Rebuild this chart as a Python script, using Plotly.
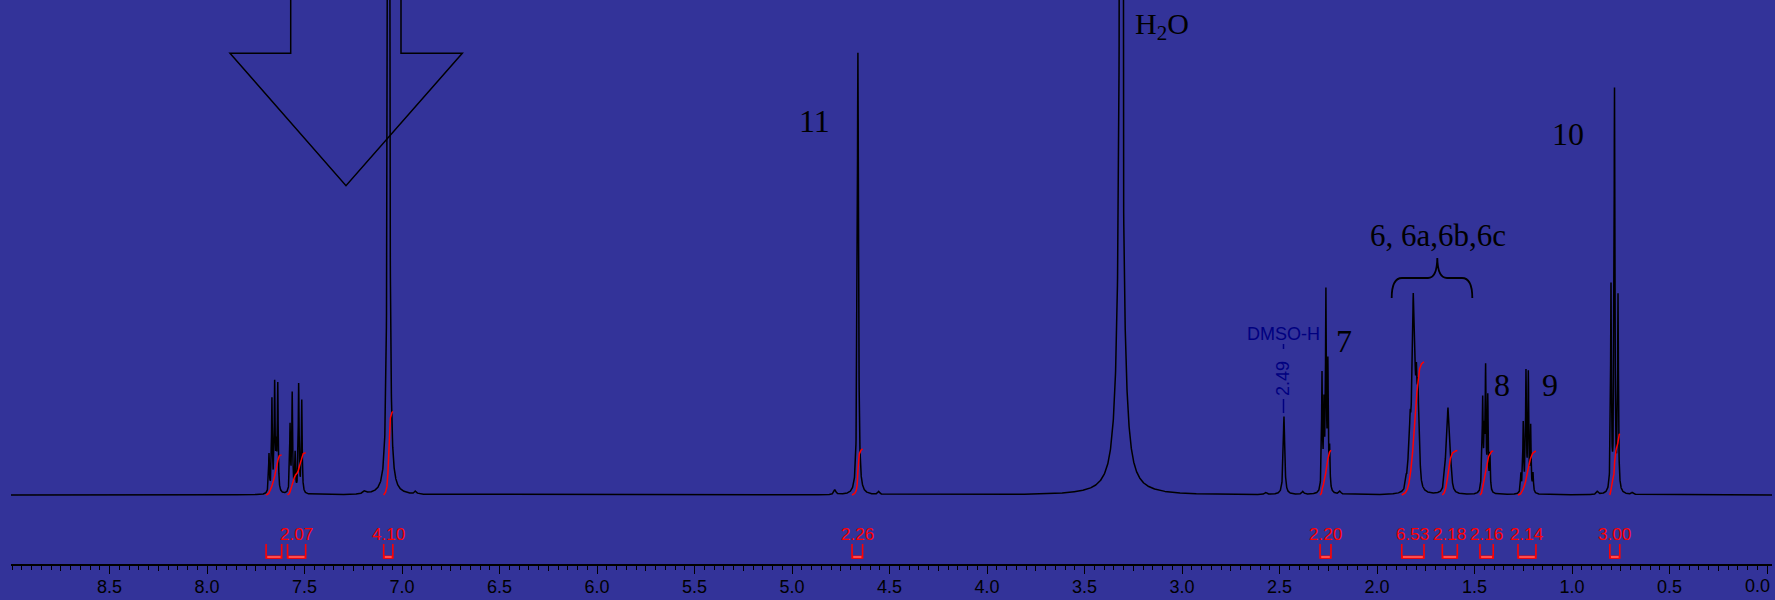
import numpy as np
import plotly.graph_objects as go

# ---------------- data: peak list (ppm, intensity, half width in ppm) ----------------
peak_ppm = [
    # aromatic multiplet 1
    7.682, 7.667, 7.653, 7.645, 7.637,
    # aromatic multiplet 2
    7.574, 7.563, 7.548, 7.530, 7.514,
    # singlet 7.07 and small bumps
    7.069, 7.190, 6.930,
    # singlet 4.66 (11) + satellites
    4.662, 4.780, 4.555,
    # H2O (three components)
    3.313, 3.313, 3.313,
    # DMSO-H
    2.477,
    # 7
    2.282, 2.272, 2.262, 2.252, 2.243,
    # 6 group
    1.850, 1.838, 1.830, 1.822, 1.814, 1.806, 1.798, 1.790, 1.782,
    # 1.64 group
    1.652, 1.644, 1.636, 1.628, 1.620,
    # 8
    1.463, 1.458, 1.450, 1.443, 1.432, 1.421,
    # 9
    1.262, 1.250, 1.236, 1.224, 1.212, 1.200,
    # 10
    0.800, 0.782, 0.764,
    # small bumps
    2.380, 2.190, 0.870, 0.690, 2.570,
]
peak_height = [
    38, 92, 106, 38, 106,
    66, 98, 38, 108, 92,
    1500, 3, 3,
    442, 5, 3,
    3000, 180, 3,
    78,
    115, 80, 193, 122, 38,
    10, 25, 50, 45, 160, 72, 80, 80, 20,
    12, 35, 65, 35, 14,
    28, 85, 50, 118, 92, 36,
    18, 68, 118, 116, 64, 18,
    204, 400, 193,
    3, 3, 3, 2, 2,
]
peak_hwhm = [
    0.0025, 0.0025, 0.0025, 0.0025, 0.0025,
    0.0025, 0.0025, 0.0025, 0.0025, 0.0025,
    0.0039, 0.010, 0.006,
    0.0036, 0.006, 0.006,
    0.0031, 0.0256, 0.128,
    0.0045,
    0.0025, 0.0025, 0.0025, 0.0025, 0.0025,
    0.0045, 0.0045, 0.0045, 0.0045, 0.0045, 0.0045, 0.0045, 0.0045, 0.0045,
    0.005, 0.005, 0.005, 0.005, 0.005,
    0.0025, 0.0025, 0.0025, 0.0025, 0.0025, 0.0025,
    0.0025, 0.0025, 0.0025, 0.0025, 0.0025, 0.0025,
    0.0025, 0.0025, 0.0025,
    0.006, 0.006, 0.006, 0.006, 0.006,
]

# ---------------- data: integrals ----------------
int_start = [7.697, 7.587, 7.094, 4.692, 2.292, 1.873, 1.665, 1.472, 1.277, 0.806]
int_end = [7.617, 7.494, 7.047, 4.638, 2.236, 1.759, 1.588, 1.404, 1.185, 0.755]
int_value = [1.97, 2.07, 4.10, 2.26, 2.20, 6.53, 2.18, 2.16, 2.14, 3.00]
int_label = ["", "2.07", "4.10", "2.26", "2.20", "6.53", "2.18", "2.16", "2.14", "3.00"]
INT_SCALE = 20.4  # curve height per integral unit

# ---------------- data: axis ticks ----------------
tick_vals = [8.5, 8.0, 7.5, 7.0, 6.5, 6.0, 5.5, 5.0, 4.5, 4.0, 3.5, 3.0, 2.5, 2.0, 1.5, 1.0, 0.5, 0.0]
tick_text = ["8.5", "8.0", "7.5", "7.0", "6.5", "6.0", "5.5", "5.0", "4.5", "4.0",
             "3.5", "3.0", "2.5", "2.0", "1.5", "1.0", "0.5", " "]
mid_tick_vals = [8.75, 8.25, 7.75, 7.25, 6.75, 6.25, 5.75, 5.25, 4.75, 4.25, 3.75, 3.25,
                 2.75, 2.25, 1.75, 1.25, 0.75, 0.25]

# ---------------- spectrum from peak list ----------------
ppm = np.arange(-0.03, 9.01, 0.0005)


def spectrum(x):
    s = np.zeros_like(x)
    for p, h, g in zip(peak_ppm, peak_height, peak_hwhm):
        s += h * g * g / (g * g + (x - p) ** 2)
    return s


spec = spectrum(ppm)

BG = "#333399"
AXIS_PX = 564  # pixel row of the axis line
fig = go.Figure()
fig.add_trace(go.Scatter(x=ppm, y=spec, mode="lines",
                         line=dict(color="black", width=1.5), hoverinfo="skip"))

# integral curves
for a, b, v in zip(int_start, int_end, int_value):
    xi = np.linspace(a, b, 400)
    yi = spectrum(xi)
    cum = np.concatenate([[0.0], np.cumsum((yi[1:] + yi[:-1]) / 2.0)])
    cum = cum / cum[-1] * v * INT_SCALE
    fig.add_trace(go.Scatter(x=xi, y=cum, mode="lines",
                             line=dict(color="#ff0000", width=1.5), hoverinfo="skip"))

# dummy trace to realise the mid-tick axis
fig.add_trace(go.Scatter(x=[], y=[], xaxis="x2", showlegend=False))

# ---------------- layout helpers (pixel -> data) ----------------
def fx(px):
    return 8.5 - (px - 109.5) / 195.0


def fy(py):
    return 495.0 - py


shapes = []
annotations = []

# integral brackets and labels
for a, b, lab in zip(int_start, int_end, int_label):
    shapes.append(dict(type="path", xref="x", yref="y",
                       path=f"M {a} {fy(544)} L {a} {fy(558)} L {b} {fy(558)} L {b} {fy(544)}",
                       line=dict(color="#ff0000", width=1.6)))
    shapes.append(dict(type="line", xref="x", yref="y", x0=a, x1=b, y0=fy(557), y1=fy(557),
                       line=dict(color="#ff0000", width=3)))
    shapes.append(dict(type="line", xref="x", yref="y", x0=a - 0.006, x1=b + 0.006,
                       y0=fy(557), y1=fy(557), line=dict(color="#ff9a9a", width=1)))
    if lab:
        annotations.append(dict(x=(a + b) / 2, y=fy(534), xref="x", yref="y", text=lab,
                                showarrow=False, xanchor="center", yanchor="middle",
                                font=dict(family="Liberation Sans, Arial", size=17, color="#ff0000")))

# big outline arrow
arrow = (f"M {fx(290.7)} {fy(-5)} L {fx(290.7)} {fy(53.3)} L {fx(230)} {fy(53.3)} "
         f"L {fx(346)} {fy(185.7)} L {fx(462.3)} {fy(53.3)} L {fx(401)} {fy(53.3)} "
         f"L {fx(401)} {fy(-5)}")
shapes.append(dict(type="path", xref="x", yref="y", path=arrow,
                   line=dict(color="black", width=1.5)))

# curly brace over the 6-group
brace = (f"M {fx(1391.7)} {fy(298)} Q {fx(1391.7)} {fy(278)} {fx(1402)} {fy(278)} "
         f"L {fx(1428)} {fy(278)} Q {fx(1437)} {fy(278)} {fx(1437.3)} {fy(258)} "
         f"Q {fx(1437.6)} {fy(278)} {fx(1447)} {fy(278)} L {fx(1462)} {fy(278)} "
         f"Q {fx(1472.3)} {fy(278)} {fx(1472.3)} {fy(298)}")
shapes.append(dict(type="path", xref="x", yref="y", path=brace,
                   line=dict(color="black", width=1.8)))

# DMSO peak label lines
shapes.append(dict(type="line", xref="x", yref="y", x0=fx(1283.5), x1=fx(1283.5),
                   y0=fy(399), y1=fy(413), line=dict(color="#000080", width=1.5)))
shapes.append(dict(type="line", xref="x", yref="y", x0=fx(1283.5), x1=fx(1283.5),
                   y0=fy(344), y1=fy(349), line=dict(color="#000080", width=1.5)))

serif = "Liberation Serif, Times New Roman, serif"
for txt, px, py, size in [("11", 814, 121, 32), ("10", 1568, 134, 32), ("7", 1344, 341, 32),
                          ("8", 1502, 385, 32), ("9", 1549.5, 385, 32),
                          ("H<sub>2</sub>O", 1162, 26, 30), ("6, 6a,6b,6c", 1438, 235, 31)]:
    annotations.append(dict(x=fx(px), y=fy(py), xref="x", yref="y", text=txt, showarrow=False,
                            xanchor="center", yanchor="middle",
                            font=dict(family=serif, size=size, color="black")))

annotations.append(dict(x=fx(1283), y=fy(334), xref="x", yref="y", text="DMSO-H", showarrow=False,
                        xanchor="center", yanchor="middle",
                        font=dict(family="Liberation Sans, Arial", size=18, color="#000080")))
annotations.append(dict(x=fx(1283), y=fy(379), xref="x", yref="y", text="2.49", showarrow=False,
                        textangle=-90, xanchor="center", yanchor="middle",
                        font=dict(family="Liberation Sans, Arial", size=18, color="#000080")))
# 0.0 label kept inside the window (paper coords below the plot area)
annotations.append(dict(x=1.0, y=-(586 - AXIS_PX) / AXIS_PX, xref="paper", yref="paper",
                        text="0.0", showarrow=False, xanchor="right", yanchor="middle",
                        font=dict(family="Liberation Sans, Arial", size=18, color="black")))

XR = [fx(11), fx(1772)]
fig.update_layout(
    width=1775, height=600,
    margin=dict(l=11, r=3, t=0, b=600 - AXIS_PX, pad=0),
    paper_bgcolor=BG, plot_bgcolor=BG,
    showlegend=False,
    shapes=shapes, annotations=annotations,
    xaxis=dict(range=XR, showgrid=False, zeroline=False, showline=True, linecolor="black",
               linewidth=1.5, ticks="outside", ticklen=8, tickwidth=1.3, tickcolor="black",
               tickmode="array", tickvals=tick_vals, ticktext=tick_text,
               ticklabelstandoff=-2,
               tickfont=dict(family="Liberation Sans, Arial", size=18, color="black"),
               minor=dict(tickmode="linear", tick0=0, dtick=0.05, ticks="outside", ticklen=4,
                          tickwidth=1.2, tickcolor="black", showgrid=False)),
    xaxis2=dict(range=XR, overlaying="x", anchor="y", side="bottom", showgrid=False,
                zeroline=False, showline=False, ticks="outside", ticklen=6, tickwidth=1.2,
                tickcolor="black", tickmode="array", tickvals=mid_tick_vals,
                showticklabels=False),
    yaxis=dict(range=[fy(AXIS_PX), fy(0)], visible=False, showgrid=False, zeroline=False),
)

fig.write_html("out.html")
